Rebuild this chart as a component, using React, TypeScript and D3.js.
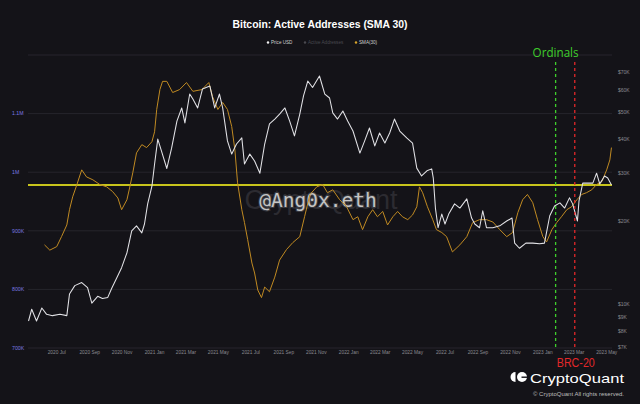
import React from "react";
import * as d3 from "d3";

const W = 640;
const H = 404;

// BTC price (USD), right log axis
const priceDates = [
  "2020-05-09", "2020-05-15", "2020-05-24", "2020-06-03", "2020-06-12", "2020-06-23", "2020-07-07", "2020-07-20",
  "2020-07-25", "2020-08-04", "2020-08-17", "2020-08-28", "2020-09-05", "2020-09-16", "2020-09-25", "2020-10-05",
  "2020-10-12", "2020-10-22", "2020-10-31", "2020-11-10", "2020-11-19", "2020-11-28", "2020-12-08", "2020-12-13",
  "2020-12-19", "2020-12-27", "2021-01-01", "2021-01-07", "2021-01-14", "2021-01-24", "2021-02-02", "2021-02-12",
  "2021-02-21", "2021-02-27", "2021-03-08", "2021-03-14", "2021-03-23", "2021-04-01", "2021-04-15", "2021-04-24",
  "2021-05-03", "2021-05-09", "2021-05-18", "2021-05-26", "2021-06-04", "2021-06-14", "2021-06-19", "2021-06-29",
  "2021-07-08", "2021-07-18", "2021-07-27", "2021-08-05", "2021-08-15", "2021-08-24", "2021-09-03", "2021-09-12",
  "2021-09-21", "2021-10-01", "2021-10-08", "2021-10-16", "2021-10-25", "2021-11-07", "2021-11-17", "2021-11-26",
  "2021-12-02", "2021-12-11", "2021-12-21", "2021-12-30", "2022-01-09", "2022-01-22", "2022-01-31", "2022-02-09",
  "2022-02-19", "2022-02-28", "2022-03-10", "2022-03-19", "2022-03-28", "2022-04-07", "2022-04-20", "2022-05-01",
  "2022-05-09", "2022-05-18", "2022-05-28", "2022-06-06", "2022-06-09", "2022-06-13", "2022-06-18", "2022-06-25",
  "2022-07-01", "2022-07-08", "2022-07-19", "2022-07-29", "2022-08-11", "2022-08-20", "2022-08-26", "2022-09-04",
  "2022-09-10", "2022-09-17", "2022-09-29", "2022-10-12", "2022-10-25", "2022-11-04", "2022-11-09", "2022-11-18",
  "2022-11-30", "2022-12-13", "2022-12-26", "2023-01-04", "2023-01-14", "2023-01-23", "2023-02-02", "2023-02-11",
  "2023-02-20", "2023-02-26", "2023-03-07", "2023-03-10", "2023-03-17", "2023-03-26", "2023-04-05", "2023-04-12",
  "2023-04-18", "2023-04-27", "2023-05-03", "2023-05-10",
];
const priceUsd = [
  8700, 9600, 8700, 9700, 9200, 9100, 9200, 9100,
  10900, 11700, 12000, 11500, 10100, 10700, 10500, 10600,
  11400, 12500, 13600, 15400, 18500, 19300, 18200, 19600,
  23200, 26900, 32400, 39900, 36100, 31200, 37000, 46400,
  51800, 45700, 58200, 55800, 51800, 60700, 62200, 51800,
  58200, 51800, 39300, 35200, 38300, 40300, 32400, 35200,
  33200, 30000, 38300, 45300, 47200, 49200, 51800, 46400,
  41000, 49200, 57300, 64900, 61500, 67700, 58200, 56300,
  49700, 47200, 50500, 46400, 42700, 35500, 39300, 43800,
  37700, 42000, 38600, 42000, 47200, 42700, 40300, 38600,
  31300, 29300, 30600, 31100, 28800, 22400, 19000, 21300,
  19600, 21300, 23200, 22400, 24200, 20600, 19600, 19000,
  21900, 19000, 19000, 19300, 20100, 20600, 16700, 16000,
  16700, 16700, 16600, 16700, 21000, 22800, 23400, 22400,
  24400, 23200, 20100, 23800, 27600, 27600, 27600, 30000,
  27400, 29300, 28800, 27200,
];

// Active addresses SMA(30), in thousands, left axis
const smaDates = [
  "2020-06-08", "2020-06-18", "2020-07-01", "2020-07-10", "2020-07-20", "2020-07-25", "2020-07-31", "2020-08-08",
  "2020-08-17", "2020-08-26", "2020-09-07", "2020-09-20", "2020-10-03", "2020-10-14", "2020-10-24", "2020-10-31",
  "2020-11-10", "2020-11-15", "2020-11-21", "2020-11-28", "2020-12-08", "2020-12-17", "2020-12-27", "2021-01-01",
  "2021-01-05", "2021-01-11", "2021-01-16", "2021-01-24", "2021-02-04", "2021-02-17", "2021-03-02", "2021-03-14",
  "2021-03-31", "2021-04-13", "2021-04-20", "2021-04-30", "2021-05-09", "2021-05-18", "2021-05-26", "2021-06-01",
  "2021-06-06", "2021-06-14", "2021-06-19", "2021-06-25", "2021-07-03", "2021-07-08", "2021-07-14", "2021-07-21",
  "2021-07-27", "2021-08-05", "2021-08-15", "2021-08-24", "2021-09-06", "2021-09-18", "2021-10-01", "2021-10-10",
  "2021-10-20", "2021-11-02", "2021-11-13", "2021-11-22", "2021-12-02", "2021-12-15", "2021-12-28", "2022-01-09",
  "2022-01-18", "2022-01-27", "2022-02-06", "2022-02-15", "2022-02-24", "2022-03-06", "2022-03-15", "2022-03-25",
  "2022-04-03", "2022-04-12", "2022-04-22", "2022-05-01", "2022-05-09", "2022-05-14", "2022-05-20", "2022-05-29",
  "2022-06-08", "2022-06-15", "2022-06-25", "2022-07-04", "2022-07-15", "2022-07-29", "2022-08-11", "2022-08-22",
  "2022-09-04", "2022-09-17", "2022-09-29", "2022-10-12", "2022-10-25", "2022-11-05", "2022-11-15", "2022-11-24",
  "2022-12-03", "2022-12-13", "2022-12-22", "2023-01-01", "2023-01-08", "2023-01-18", "2023-01-27", "2023-02-05",
  "2023-02-15", "2023-02-24", "2023-03-06", "2023-03-15", "2023-03-24", "2023-04-03", "2023-04-12", "2023-04-22",
  "2023-05-01", "2023-05-07", "2023-05-10",
];
const smaThousands = [
  876, 867, 873, 890, 910, 936, 958, 979,
  1004, 992, 987, 979, 975, 967, 956, 936,
  953, 973, 999, 1033, 1047, 1042, 1052, 1069,
  1107, 1141, 1155, 1155, 1136, 1141, 1153, 1138,
  1141, 1153, 1129, 1107, 1119, 1107, 1078, 1038,
  982, 936, 914, 885, 845, 828, 799, 786,
  804, 796, 821, 850, 868, 880, 890, 924,
  962, 975, 979, 965, 970, 953, 941, 919,
  924, 902, 924, 936, 924, 933, 910, 924,
  933, 924, 919, 927, 941, 975, 965, 941,
  919, 902, 897, 890, 864, 876, 890, 914,
  919, 919, 915, 902, 890, 897, 931, 953,
  962, 948, 919, 890, 881, 902, 914, 924,
  936, 941, 953, 962, 965, 970, 979, 984,
  1004, 1021, 1042,
];

const refLevelThousands = 978;

const leftTicks = [700, 800, 900, 1000, 1100, 1200];
const leftTickLabels = ["700K", "800K", "900K", "1M", "1.1M", ""];
const rightTicks = [7000, 8000, 9000, 10000, 20000, 30000, 40000, 50000, 60000, 70000];
const rightTickLabels = ["$7K", "$8K", "$9K", "$10K", "$20K", "$30K", "$40K", "$50K", "$60K", "$70K"];

const eventDates = ["2023-01-25", "2023-03-02"];
const eventLabels = ["Ordinals", "BRC-20"];
const eventColors = ["#3fcf2c", "#e3282a"];

const legendNames = ["Price USD", "Active Addresses", "SMA(30)"];

const BG = "#141318";
const GRID = "#26252c";
const FONT = "'Liberation Sans', Arial, sans-serif";

const parse = d3.utcParse("%Y-%m-%d");

export default function App() {
  const left = 28, right = 612, top = 55, bottom = 348;

  const x = d3.scaleUtc()
    .domain([parse("2020-05-08"), parse("2023-05-11")])
    .range([left, right]);
  const yL = d3.scaleLinear().domain([700, 1200]).range([bottom, top]);
  const yR = d3.scaleLog().domain([6940, 80700]).range([bottom, top]);

  const priceData = priceDates.map((d, i) => ({ date: parse(d), v: priceUsd[i] }));
  const smaData = smaDates.map((d, i) => ({ date: parse(d), v: smaThousands[i] }));

  const priceLine = d3.line<any>().x((d) => x(d.date)).y((d) => yR(d.v));
  const smaLine = d3.line<any>().x((d) => x(d.date)).y((d) => yL(d.v));

  const xTicks = d3.utcMonths(parse("2020-07-01"), parse("2023-05-02")).filter((d) => d.getUTCMonth() % 2 === 0);
  const fmt = d3.utcFormat("%Y %b");

  const legendX = [268, 305, 356];
  const legendColors = ["#f2f2f2", "#4a4a50", "#d6a42c"];
  const legendText = ["#cfcfcf", "#4a4a50", "#cfcfcf"];

  return (
    <svg width={W} height={H} style={{ position: "absolute", left: 0, top: 0, background: BG }}>
      <rect x={0} y={0} width={W} height={H} fill={BG} />

      <text x={320} y={28} textAnchor="middle" fill="#ffffff" fontFamily={FONT} fontWeight="bold" fontSize={10.4}>
        Bitcoin: Active Addresses (SMA 30)
      </text>

      {legendNames.map((n, i) => (
        <g key={n}>
          <circle cx={legendX[i]} cy={42.5} r={1.2} fill={legendColors[i]} />
          <text x={legendX[i] + 3} y={44.2} fill={legendText[i]} fontFamily={FONT} fontSize={4.6}>{n}</text>
        </g>
      ))}

      {leftTicks.map((t, i) => (
        <g key={t}>
          <line x1={left} x2={right} y1={yL(t)} y2={yL(t)} stroke={GRID} strokeWidth={1} />
          <text x={12} y={yL(t) + 1.8} fill="#7a78e0" fontFamily={FONT} fontSize={5.2}>{leftTickLabels[i]}</text>
        </g>
      ))}

      {rightTicks.map((t, i) => (
        <text key={t} x={618} y={yR(t) + 1.8} fill="#8a8a90" fontFamily={FONT} fontSize={5}>{rightTickLabels[i]}</text>
      ))}

      {xTicks.map((d) => (
        <text key={+d} x={x(d)} y={354.3} textAnchor="middle" fill="#8a8a90" fontFamily={FONT} fontSize={4.8}>{fmt(d)}</text>
      ))}

      {/* watermarks */}
      <text x={321} y={209} textAnchor="middle" fill="#2c2b31" fontFamily={FONT} fontSize={27}>CryptoQuant</text>
      <text x={318} y={207} textAnchor="middle" fill="#c4c4c4" stroke="#3a3a40" strokeWidth={2.2}
        style={{ paintOrder: "stroke" }} fontFamily="'DejaVu Sans Mono', monospace" fontSize={19.5}>
        @Ang0x.eth
      </text>

      <line x1={left} x2={right} y1={yL(refLevelThousands)} y2={yL(refLevelThousands)} stroke="#c8c41c" strokeWidth={2} />

      <path d={smaLine(smaData)} fill="none" stroke="#c08a22" strokeWidth={1} strokeLinejoin="round" />
      <path d={priceLine(priceData)} fill="none" stroke="#e2e2e6" strokeWidth={1.05} strokeLinejoin="round" />

      {eventDates.map((d, i) => (
        <line key={d} x1={x(parse(d))} x2={x(parse(d))} y1={62} y2={350}
          stroke={eventColors[i]} strokeWidth={1.3} strokeDasharray="3,3" />
      ))}
      <text x={x(parse(eventDates[0]))} y={57} textAnchor="middle" fill={eventColors[0]}
        fontFamily="'Open Sans', sans-serif" fontSize={13.5} textLength={46} lengthAdjust="spacingAndGlyphs">
        {eventLabels[0]}
      </text>
      <text x={x(parse(eventDates[1])) + 1} y={367} textAnchor="middle" fill={eventColors[1]}
        fontFamily={FONT} fontSize={12} textLength={38} lengthAdjust="spacingAndGlyphs">
        {eventLabels[1]}
      </text>

      {/* logo */}
      <g fill="#ffffff">
        <path d="M515.5,372 A5,5 0 0 0 515.5,382 Z" />
        <circle cx={522} cy={377} r={5} />
        <rect x={521.5} y={376.5} width={6} height={1.4} fill={BG} />
      </g>
      <text x={530} y={382.5} fill="#ffffff" fontFamily={FONT} fontSize={13.5} textLength={94} lengthAdjust="spacingAndGlyphs">
        CryptoQuant
      </text>
      <text x={533} y={395.5} fill="#bdbdbd" fontFamily={FONT} fontSize={5.4} textLength={91} lengthAdjust="spacingAndGlyphs">
        © CryptoQuant All rights reserved.
      </text>
    </svg>
  );
}
